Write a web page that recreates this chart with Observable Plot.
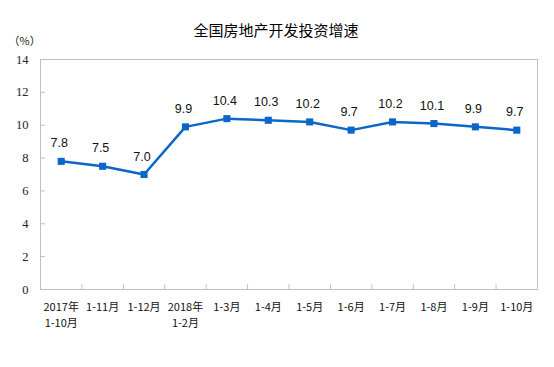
<!DOCTYPE html>
<html><head><meta charset="utf-8">
<script src="https://cdn.jsdelivr.net/npm/d3@7"></script>
<script src="https://cdn.jsdelivr.net/npm/@observablehq/plot@0.6"></script>
<style>body{margin:0;background:#fff}</style>
</head><body><div id="chart"></div>
<script>
const title = "全国房地产开发投资增速";
const unit = "（%）";
const categories = ["2017年\n1-10月","1-11月","1-12月","2018年\n1-2月","1-3月","1-4月","1-5月","1-6月","1-7月","1-8月","1-9月","1-10月"];
const values = [7.8,7.5,7.0,9.9,10.4,10.3,10.2,9.7,10.2,10.1,9.9,9.7];
const yTicks = [0,2,4,6,8,10,12,14];

const data = categories.map((c,i)=>({i, c, v: values[i]}));
const bounds = d3.range(categories.length + 1).map(k => k - 0.5);
const blue = "#0a66c8";
const axisColor = "#bfbfbf";

const chart = Plot.plot({
  width: 554, height: 367,
  marginTop: 59, marginLeft: 40, marginRight: 17, marginBottom: 78,
  x: {type: "linear", domain: [-0.5, categories.length - 0.5]},
  y: {domain: [0, 14]},
  style: {background: "#fff"},
  marks: [
    Plot.frame({stroke: axisColor}),
    Plot.axisY({ticks: yTicks, tickSize: -5, stroke: axisColor, text: null, label: null}),
    Plot.axisY({ticks: yTicks, tickSize: 0, tickPadding: 12, fontSize: 12.5, fontFamily: "Liberation Serif", fill: "#222", label: null}),
    Plot.ruleX(bounds, {x: d => d, y1: 0, y2: 0.28, stroke: axisColor}),
    Plot.axisX({ticks: d3.range(categories.length), tickFormat: i => categories[i], tickSize: 0, tickPadding: 10, fontSize: 11, fontFamily: "Noto Sans CJK SC", lineHeight: 1.45, lineAnchor: "top", fill: "#111", label: null}),
    Plot.line(data, {x: "i", y: "v", stroke: blue, strokeWidth: 2.5}),
    Plot.dot(data, {x: "i", y: "v", symbol: "square", r: 4, fill: blue, stroke: "none"}),
    Plot.text(data, {x: "i", y: "v", text: d => d.v.toFixed(1), dy: -18, dx: -2, fontSize: 12.5, fontFamily: "Liberation Sans", fill: "#111"}),
    Plot.text([title], {frameAnchor: "top", dy: -34, dx: -13, fontSize: 15, fontFamily: "Noto Sans CJK SC", fill: "#000"}),
    Plot.text([unit], {frameAnchor: "top-left", dx: -32, dy: -22, fontSize: 11, fontFamily: "Noto Sans CJK SC", fill: "#222"})
  ]
});
document.getElementById("chart").appendChild(chart);
</script></body></html>
